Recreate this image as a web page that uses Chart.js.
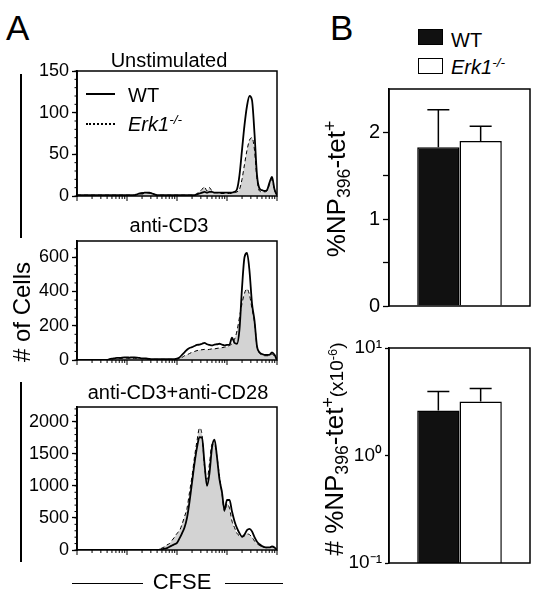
<!DOCTYPE html>
<html>
<head>
<meta charset="utf-8">
<script src="https://cdn.jsdelivr.net/npm/chart.js@4/dist/chart.umd.min.js"></script>
<style>
body { margin: 0; background: #fff; }
#fig { position: relative; width: 541px; height: 599px; overflow: hidden; font-family: "Liberation Sans", Arial, Helvetica, sans-serif; color: #000; }
canvas { position: absolute; }
.t { position: absolute; line-height: 1; white-space: nowrap; }
.c { text-align: center; width: 300px; }
.r { transform: translate(-50%, -50%) rotate(-90deg); }
sup, sub { line-height: 0; font-size: 0.68em; }
sup { vertical-align: 0.5em; }
sub { vertical-align: -0.28em; }
.rule { position: absolute; background: #000; }
</style>
</head>
<body>
<div id="fig">
  <canvas id="a1" width="265" height="145" style="left:20px;top:60px"></canvas>
  <canvas id="a2" width="265" height="139" style="left:20px;top:230px"></canvas>
  <canvas id="a3" width="265" height="163" style="left:20px;top:396px"></canvas>
  <canvas id="b1" width="210" height="236" style="left:330px;top:80px"></canvas>
  <canvas id="b2" width="210" height="235" style="left:330px;top:338px"></canvas>

  <div class="t" style="left:6px;top:9.7px;font-size:35px">A</div>
  <div class="t" style="left:330px;top:10.4px;font-size:35px">B</div>

  <div class="t c" style="left:19px;top:49.8px;font-size:20px">Unstimulated</div>
  <div class="t c" style="left:19px;top:214.8px;font-size:20px">anti-CD3</div>
  <div class="t c" style="left:28px;top:382.4px;font-size:20px">anti-CD3+anti-CD28</div>

  <div class="t r" style="left:22px;top:312px;font-size:24px"># of Cells</div>
  <div class="rule" style="left:20px;top:74px;width:2px;height:164px"></div>
  <div class="rule" style="left:20px;top:382px;width:2px;height:180px"></div>

  <div class="t c" style="left:32px;top:571.4px;font-size:22px">CFSE</div>
  <div class="rule" style="left:72px;top:582.5px;width:71px;height:1.5px"></div>
  <div class="rule" style="left:225px;top:582.5px;width:58px;height:1.5px"></div>

  <div class="rule" style="left:86px;top:93px;width:29px;height:2px"></div>
  <div style="position:absolute;left:86px;top:123px;width:29px;border-top:2px dotted #000"></div>
  <div class="t" style="left:128px;top:84.8px;font-size:20px">WT</div>
  <div class="t" style="left:128px;top:113.8px;font-size:20px"><i>Erk1<sup>-/-</sup></i></div>

  <div style="position:absolute;left:418px;top:29px;width:25px;height:16px;background:#111;border:1px solid #000;box-sizing:border-box"></div>
  <div style="position:absolute;left:418px;top:58px;width:25px;height:16px;background:#fff;border:1.5px solid #000;box-sizing:border-box"></div>
  <div class="t" style="left:451px;top:29.8px;font-size:20px">WT</div>
  <div class="t" style="left:451px;top:57.1px;font-size:20px"><i>Erk1<sup>-/-</sup></i></div>

  <div class="t r" style="left:336px;top:188.5px;font-size:26px">%NP<sub>396</sub>-tet<sup>+</sup></div>
  <div class="t r" style="left:334px;top:449px;font-size:26px"># %NP<sub>396</sub>-tet<sup>+</sup><span style="font-size:19px">(x10<sup>-6</sup>)</span></div>
</div>

<script>
// CFSE position in decades (x), one point every 0.05 decade
const cfseDecade = [0,0.05,0.1,0.15,0.2,0.25,0.3,0.35,0.4,0.45,0.5,0.55,0.6,0.65,0.7,0.75,0.8,0.85,0.9,0.95,
    1,1.05,1.1,1.15,1.2,1.25,1.3,1.35,1.4,1.45,1.5,1.55,1.6,1.65,1.7,1.75,1.8,1.85,1.9,1.95,
    2,2.05,2.1,2.15,2.2,2.25,2.3,2.35,2.4,2.45,2.5,2.55,2.6,2.65,2.7,2.75,2.8,2.85,2.9,2.95,
    3,3.05,3.1,3.15,3.2,3.25,3.3,3.35,3.4,3.45,3.5,3.55,3.6,3.65,3.7,3.75,3.8,3.85,3.9,3.95,4];

// # of cells, unstimulated
const unstimWt = [1,1,1,1,1,1,1,1,1,1,1,1,1,1,1,1,1,1,1,1,1,1,1,1,
    2,3,3,4,4,4,3,2,1,
    1,1,1,1,1,1,1,1,1,1,1,1,1,1,1,
    2,3,4,5,4,5,5,4,4,4,4,4,4,4,4,5,
    8,25,55,85,108,120,115,75,25,9,7,6,7,16,23,8,1];
const unstimKo = [1,1,1,1,1,1,1,1,1,1,1,1,1,1,1,1,1,1,1,1,1,1,1,1,
    2,3,4,4,4,3,3,2,1,
    1,1,1,1,1,1,1,1,1,1,1,1,1,1,1,
    3,5,8,11,6,10,6,4,4,3,3,3,3,3,3,4,
    5,8,20,38,55,67,70,55,20,6,5,5,6,14,20,7,1];

// # of cells, anti-CD3
const cd3Wt = [0,0,0,0,0,0,0,0,0,0,0,0,0,
    5,8,10,12,12,14,15,15,14,15,15,14,12,10,10,8,6,5,
    5,5,5,5,5,5,5,5,5,8,
    15,30,45,60,70,75,82,88,90,95,100,92,88,85,90,92,95,90,85,88,
    90,130,100,95,180,420,600,625,520,330,230,80,45,35,30,30,30,45,30,0];
const cd3Ko = [0,0,0,0,0,0,0,0,0,0,0,0,0,
    4,6,8,9,10,10,11,11,10,10,10,10,9,8,7,6,5,4,
    4,4,4,4,4,4,4,4,5,8,
    10,15,25,30,38,45,50,55,58,60,62,60,62,65,65,68,70,72,75,78,
    85,95,120,170,250,330,390,415,380,300,220,80,40,30,25,25,25,35,20,0];

// # of cells, anti-CD3 + anti-CD28
const cd28Wt = [0,0,0,0,0,0,0,0,0,0,0,0,0,0,0,0,0,0,0,0,0,0,0,0,0,0,0,0,0,0,0,0,
    0,5,10,20,30,50,70,90,110,180,260,350,500,750,1050,1350,1600,1760,1750,1350,
    1000,1200,1600,1720,1450,1100,900,620,780,780,600,450,340,260,210,240,310,330,290,200,
    130,90,60,45,40,40,55,40,0];
const cd28Ko = [0,0,0,0,0,0,0,0,0,0,0,0,0,0,0,0,0,0,0,0,0,0,0,0,0,0,0,0,0,0,0,0,
    5,15,30,50,80,100,150,200,260,300,400,520,650,900,1150,1450,1700,1900,1800,1300,
    1100,1350,1650,1650,1450,1150,880,600,720,650,450,350,260,220,200,220,250,240,200,140,
    100,70,50,40,35,40,50,30,0];

const unstimTicks = [0, 50, 100, 150];
const cd3Ticks = [0, 200, 400, 600];
const cd28Ticks = [0, 500, 1000, 1500, 2000];

// panel B, order: WT, Erk1-/-
const genotypes = ['WT', 'Erk1-/-'];
const pctTetMean = [1.83, 1.90];
const pctTetErr = [0.43, 0.17];
const numTetMean = [2.62, 3.18];
const numTetErr = [1.32, 1.02];
const pctTicks = [0, 0.5, 1, 1.5, 2];
const numTicks = [0.1, 1, 10];
const numTickLabels = ['10⁻¹', '10⁰', '10¹'];

Chart.defaults.font.family = '"Liberation Sans", Arial, Helvetica, sans-serif';
Chart.defaults.color = '#000';

const boxPlugin = {
    id: 'box',
    afterDraw(chart) {
        const ctx = chart.ctx, a = chart.chartArea;
        ctx.save();
        ctx.strokeStyle = '#000';
        ctx.lineWidth = 1.5;
        ctx.strokeRect(a.left, a.top, a.right - a.left, a.bottom - a.top);
        ctx.restore();
    }
};

// log decade ticks under the CFSE axis, small ticks on the count axis
const cfseTicks = {
    id: 'cfseTicks',
    afterDraw(chart, args, opts) {
        const ctx = chart.ctx, x = chart.scales.x, y = chart.scales.y;
        const bottom = chart.chartArea.bottom, left = chart.chartArea.left;
        ctx.save();
        ctx.strokeStyle = '#000';
        ctx.lineWidth = 1;
        for (let k = 0; k <= 4; k++) {
            for (let m = 1; m < 10; m++) {
                if (k === 4 && m > 1) break;
                const px = x.getPixelForValue(k + Math.log10(m));
                ctx.beginPath();
                ctx.moveTo(px, bottom);
                ctx.lineTo(px, bottom + (m === 1 ? 5 : 3));
                ctx.stroke();
            }
        }
        for (let v = 0; v <= y.max; v += opts.minorStep) {
            const py = y.getPixelForValue(v);
            ctx.beginPath();
            ctx.moveTo(left, py);
            ctx.lineTo(left - 2.5, py);
            ctx.stroke();
        }
        ctx.restore();
    }
};

const errorBars = {
    id: 'errorBars',
    afterDatasetsDraw(chart) {
        const ctx = chart.ctx, y = chart.scales.y;
        ctx.save();
        ctx.strokeStyle = '#000';
        ctx.lineWidth = 1.5;
        chart.data.datasets.forEach((ds, i) => {
            chart.getDatasetMeta(i).data.forEach((bar, j) => {
                const top = y.getPixelForValue(ds.data[j] + ds.errorUp[j]);
                ctx.beginPath();
                ctx.moveTo(bar.x, bar.y);
                ctx.lineTo(bar.x, top);
                ctx.moveTo(bar.x - 11, top);
                ctx.lineTo(bar.x + 11, top);
                ctx.stroke();
            });
        });
        ctx.restore();
    }
};

// fixed axis width, and no extra room reserved for the end labels
function fixAxis(width) {
    return s => {
        s.width = width;
        s.paddingTop = 0;
        s.paddingBottom = 0;
    };
}

function toPoints(values) {
    return values.map((v, i) => ({ x: cfseDecade[i], y: v }));
}

function histChart(id, wt, ko, maxY, yTicks, minorStep) {
    return new Chart(document.getElementById(id), {
        type: 'line',
        data: {
            datasets: [
                { label: 'WT', data: toPoints(wt), borderColor: '#000', borderWidth: 1.8,
                  pointRadius: 0, fill: false, cubicInterpolationMode: 'monotone' },
                { label: 'Erk1-/-', data: toPoints(ko), borderColor: '#000', borderWidth: 1,
                  borderDash: [4, 3], backgroundColor: '#d3d3d3', fill: 'origin',
                  pointRadius: 0, cubicInterpolationMode: 'monotone' }
            ]
        },
        options: {
            responsive: false, animation: false, devicePixelRatio: 1, events: [],
            layout: { padding: { top: 11, right: 8, bottom: 9, left: 0 } },
            plugins: { legend: { display: false }, tooltip: { enabled: false },
                       cfseTicks: { minorStep: minorStep } },
            scales: {
                x: { type: 'linear', min: 0, max: 4, display: false },
                y: {
                    min: 0, max: maxY,
                    afterFit: fixAxis(57),
                    afterBuildTicks: s => { s.ticks = yTicks.map(v => ({ value: v })); },
                    ticks: { font: { size: 18 }, color: '#000', padding: 3, callback: v => String(v) },
                    grid: { drawOnChartArea: false, tickLength: 5, tickColor: '#000', tickWidth: 1.3 },
                    border: { color: '#000', width: 1.8 }
                }
            }
        },
        plugins: [boxPlugin, cfseTicks]
    });
}

function barChart(id, means, errs, yScale, padTop) {
    return new Chart(document.getElementById(id), {
        type: 'bar',
        data: {
            labels: [''],
            datasets: [
                { label: genotypes[0], data: [means[0]], errorUp: [errs[0]], backgroundColor: '#111',
                  borderColor: '#000', borderWidth: 1.5, categoryPercentage: 0.6, barPercentage: 1 },
                { label: genotypes[1], data: [means[1]], errorUp: [errs[1]], backgroundColor: '#fff',
                  borderColor: '#000', borderWidth: 1.5, categoryPercentage: 0.6, barPercentage: 1 }
            ]
        },
        options: {
            responsive: false, animation: false, devicePixelRatio: 1, events: [],
            layout: { padding: { top: padTop, right: 10, bottom: 10, left: 0 } },
            plugins: { legend: { display: false }, tooltip: { enabled: false } },
            scales: {
                x: { display: false },
                y: yScale
            }
        },
        plugins: [errorBars, boxPlugin]
    });
}

histChart('a1', unstimWt, unstimKo, 150, unstimTicks, 10);
histChart('a2', cd3Wt, cd3Ko, 695, cd3Ticks, 50);
histChart('a3', cd28Wt, cd28Ko, 2230, cd28Ticks, 100);

barChart('b1', pctTetMean, pctTetErr, {
    min: 0, max: 2.5,
    afterFit: fixAxis(59),
    afterBuildTicks: s => { s.ticks = pctTicks.map(v => ({ value: v })); },
    ticks: { font: { size: 20 }, color: '#000', padding: 3,
             callback: v => Number.isInteger(v) ? String(v) : '' },
    grid: { drawOnChartArea: false, tickLength: 6, tickColor: '#000', tickWidth: 1.3 },
    border: { color: '#000', width: 1.5 }
}, 9);

barChart('b2', numTetMean, numTetErr, {
    type: 'logarithmic', min: 0.1, max: 10,
    afterFit: fixAxis(59),
    afterBuildTicks: s => { s.ticks = numTicks.map(v => ({ value: v })); },
    ticks: { font: { size: 19 }, color: '#000', padding: 3,
             callback: (v, i) => numTickLabels[i] },
    grid: { drawOnChartArea: false, tickLength: 4, tickColor: '#000', tickWidth: 1.3 },
    border: { color: '#000', width: 1.5 }
}, 10);
</script>
</body>
</html>
